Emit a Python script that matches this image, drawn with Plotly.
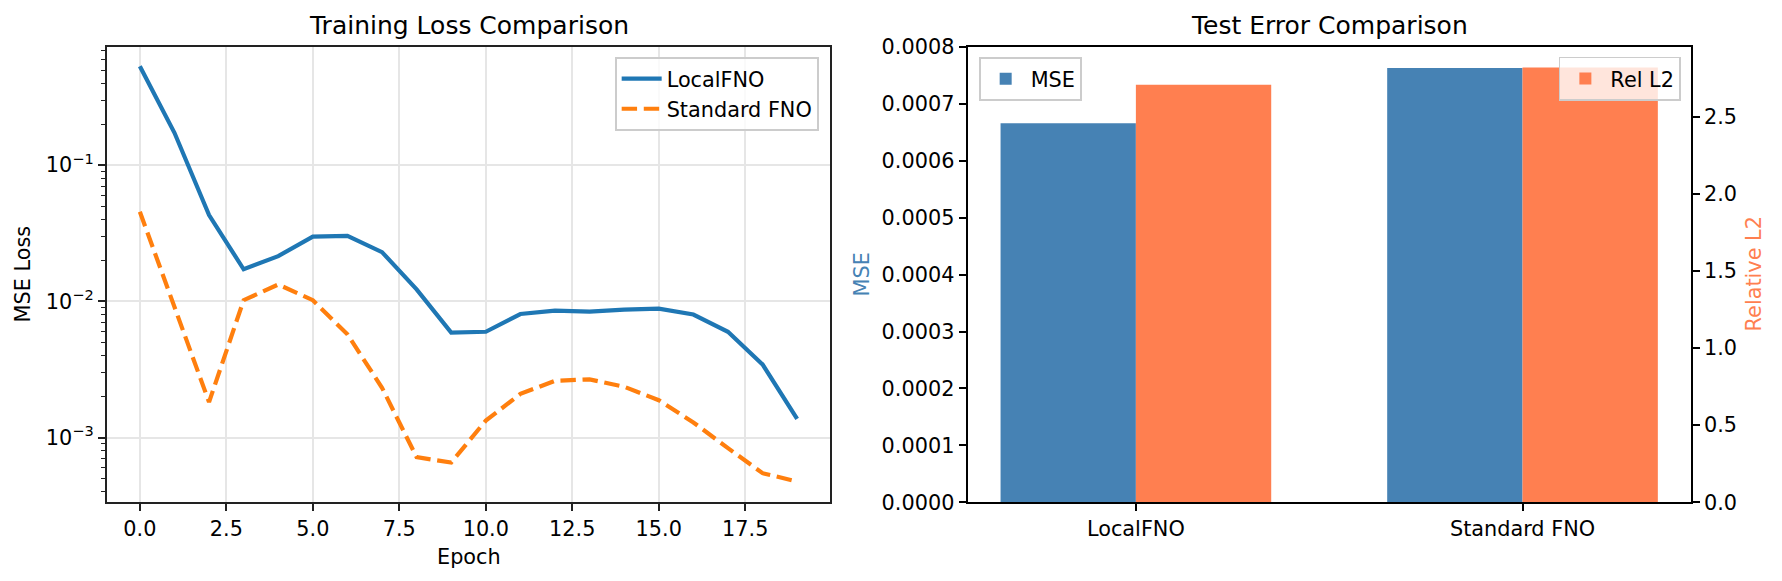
import plotly.graph_objects as go

# ---------------- data ----------------
epochs = list(range(20))
local_fno_loss = [0.533, 0.173, 0.043, 0.0172, 0.0215, 0.0299, 0.0303, 0.0230, 0.01225, 0.00589,
                  0.00598, 0.00807, 0.00854, 0.00840, 0.0087, 0.00884, 0.0080, 0.00598, 0.00344, 0.00137]
std_fno_loss = [0.0455, 0.0090, 0.00182, 0.0102, 0.0133, 0.0102, 0.00572, 0.00232, 0.000717, 0.000655,
                0.00133, 0.00209, 0.00261, 0.00267, 0.00236, 0.00188, 0.00129, 0.000836, 0.000547, 0.000475]
models = ["LocalFNO", "Standard FNO"]
mse_values = [0.000666, 0.000763]
rel_l2_values = [2.708, 2.819]

W, H = 1782, 581
FONT = "DejaVu Sans"
TICK_PX = 20.8
TITLE_PX = 25


def px_x(x):
    return x / W


def px_y(y):
    return 1 - y / H


# axes boxes (pixels)
L_left, L_right, top, bottom = 107, 830, 46.5, 502.3
R_left, R_right = 967.7, 1690.7

fig = go.Figure()

fig.add_trace(go.Scatter(x=epochs, y=local_fno_loss, mode="lines", name="LocalFNO",
                         line=dict(color="#1f77b4", width=4.2), xaxis="x", yaxis="y", legend="legend"))
fig.add_trace(go.Scatter(x=epochs, y=std_fno_loss, mode="lines", name="Standard FNO",
                         line=dict(color="#ff7f0e", width=4.2, dash="15.4px,6.7px"),
                         xaxis="x", yaxis="y", legend="legend"))

bar_w = 0.35
fig.add_trace(go.Bar(x=[0, 1], y=mse_values, name="MSE", width=bar_w, offset=-bar_w,
                     marker=dict(color="#4682B4", line=dict(width=0)), xaxis="x2", yaxis="y2",
                     legend="legend2"))
fig.add_trace(go.Bar(x=[0, 1], y=rel_l2_values, name="Rel L2", width=bar_w, offset=0,
                     marker=dict(color="#FF7F50", line=dict(width=0)), xaxis="x2", yaxis="y3",
                     legend="legend3"))

minor_vals = []
for d in [1e-4, 1e-3, 1e-2, 1e-1]:
    for k in range(2, 10):
        minor_vals.append(k * d)

tickfont = dict(family=FONT, size=TICK_PX, color="black")
leg_font = dict(family=FONT, size=TICK_PX, color="black")

fig.update_layout(
    template="none",
    width=W, height=H,
    margin=dict(l=0, r=0, t=0, b=0, pad=0, autoexpand=False),
    paper_bgcolor="white", plot_bgcolor="white",
    barmode="overlay",
    font=dict(family=FONT, size=TICK_PX, color="black"),
    xaxis=dict(domain=[px_x(L_left), px_x(L_right)], anchor="y", automargin=False,
               range=[-0.95, 19.95], tickmode="linear", tick0=0, dtick=2.5, tickformat=".1f",
               showline=True, linecolor="#222222", linewidth=1.67, mirror=True,
               ticks="outside", ticklen=7.3, tickwidth=1.67, tickcolor="#222222",
               showgrid=True, gridcolor="#e6e6e6", gridwidth=1.6, zeroline=False,
               tickfont=tickfont),
    yaxis=dict(domain=[px_y(bottom), px_y(top)], anchor="x", type="log", automargin=False,
               range=[-3.476, -0.128],
               tickmode="array", tickvals=[1e-3, 1e-2, 1e-1],
               ticktext=["10<sup>−3</sup>", "10<sup>−2</sup>", "10<sup>−1</sup>"],
               showline=True, linecolor="#222222", linewidth=1.67, mirror=True,
               ticks="outside", ticklen=7.3, tickwidth=1.67, tickcolor="#222222",
               showgrid=True, gridcolor="#e6e6e6", gridwidth=1.6, zeroline=False,
               minor=dict(tickmode="array", tickvals=minor_vals, ticks="outside", ticklen=4.2,
                          tickwidth=1.25, tickcolor="#222222", showgrid=False),
               tickfont=tickfont),
    xaxis2=dict(domain=[px_x(R_left), px_x(R_right)], anchor="y2", automargin=False,
                range=[-0.435, 1.435], tickmode="array", tickvals=[0, 1], ticktext=models,
                showline=True, linecolor="black", linewidth=1.67, mirror=True,
                ticks="outside", ticklen=7.3, tickwidth=1.67, tickcolor="black",
                showgrid=False, zeroline=False, tickfont=tickfont),
    yaxis2=dict(domain=[px_y(bottom), px_y(top)], anchor="x2", range=[0, 0.000801],
                automargin=False,
                tickmode="linear", tick0=0, dtick=0.0001, tickformat=".4f",
                showline=True, linecolor="black", linewidth=1.67,
                ticks="outside", ticklen=7.3, tickwidth=1.67, tickcolor="black",
                showgrid=False, zeroline=False, tickfont=tickfont),
    yaxis3=dict(overlaying="y2", anchor="x2", side="right", range=[0, 2.956],
                automargin=False,
                tickmode="linear", tick0=0, dtick=0.5, tickformat=".1f",
                showline=True, linecolor="black", linewidth=1.67,
                ticks="outside", ticklen=7.3, tickwidth=1.67, tickcolor="black",
                showgrid=False, zeroline=False, tickfont=tickfont),
    legend=dict(x=px_x(819), y=px_y(57), xanchor="right", yanchor="top",
                bgcolor="rgba(255,255,255,0.8)", bordercolor="#cccccc", borderwidth=1.67,
                font=leg_font, itemwidth=40, tracegroupgap=0),
    legend2=dict(x=px_x(979), y=px_y(57), xanchor="left", yanchor="top",
                 bgcolor="rgba(255,255,255,0.8)", bordercolor="#cccccc", borderwidth=1.67,
                 font=leg_font, itemwidth=40),
    legend3=dict(x=px_x(1680.7), y=px_y(56.7), xanchor="right", yanchor="top",
                 bgcolor="rgba(255,255,255,0.8)", bordercolor="#cccccc", borderwidth=1.67,
                 font=leg_font, itemwidth=40),
    showlegend=True,
)

annotations = [
    dict(text="Training Loss Comparison", x=px_x((L_left + L_right) / 2), y=px_y(25),
         font=dict(family=FONT, size=TITLE_PX, color="black")),
    dict(text="Test Error Comparison", x=px_x((R_left + R_right) / 2), y=px_y(25),
         font=dict(family=FONT, size=TITLE_PX, color="black")),
    dict(text="Epoch", x=px_x((L_left + L_right) / 2), y=px_y(557),
         font=dict(family=FONT, size=TICK_PX, color="black")),
    dict(text="MSE Loss", x=px_x(23), y=px_y((top + bottom) / 2), textangle=-90,
         font=dict(family=FONT, size=TICK_PX, color="black")),
    dict(text="MSE", x=px_x(862), y=px_y((top + bottom) / 2), textangle=-90,
         font=dict(family=FONT, size=TICK_PX, color="#4682B4")),
    dict(text="Relative L2", x=px_x(1754), y=px_y((top + bottom) / 2), textangle=-90,
         font=dict(family=FONT, size=TICK_PX, color="#FF7F50")),
]
for a in annotations:
    a.update(xref="paper", yref="paper", showarrow=False, xanchor="center", yanchor="middle")
fig.update_layout(annotations=annotations)

fig.write_html("out.html")
